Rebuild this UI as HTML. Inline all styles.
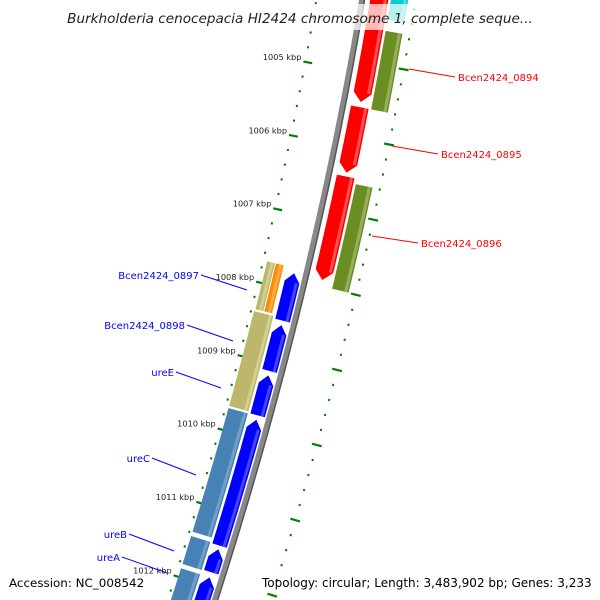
<!DOCTYPE html>
<html><head><meta charset="utf-8"><style>
html,body{margin:0;background:#fff;width:600px;height:600px;overflow:hidden;}
svg{display:block;font-family:"DejaVu Sans","Liberation Sans",sans-serif;}
</style></head><body>
<svg id="map" width="600" height="600" viewBox="0 0 600 600" xmlns="http://www.w3.org/2000/svg">
<g id="ticks"></g>
<g id="backbone"></g>
<g id="genes"></g>
<g id="labels"></g>
<rect x="40" y="4" width="520" height="26" fill="#fff" opacity="0.72"/>
<text x="300" y="23" text-anchor="middle" font-size="13.6" font-style="italic" fill="#222">Burkholderia cenocepacia HI2424 chromosome 1, complete seque...</text>
<text x="9" y="587" font-size="11.9" fill="#000">Accession: NC_008542</text>
<text x="262" y="587" font-size="12" fill="#000">Topology: circular; Length: 3,483,902 bp; Genes: 3,233</text>
</svg>
<script>
// data (kbp)
const geneNames = ["Bcen2424_0894","Bcen2424_0895","Bcen2424_0896","Bcen2424_0897","Bcen2424_0898","ureE","ureC","ureB","ureA"];
const redStarts = [1004.0, 1005.55, 1006.48];
const redEnds   = [1005.51, 1006.46, 1007.90];
const greenStarts = [1004.50, 1006.55];
const greenEnds   = [1005.58, 1007.98];
const cyanStarts = [1003.9];
const cyanEnds   = [1004.38];
const tanStarts = [1007.80, 1008.48];
const tanEnds   = [1008.48, 1009.80];
const orangeStarts = [1007.80];
const orangeEnds   = [1008.48];
const steelStarts = [1009.80, 1011.54, 1011.98];
const steelEnds   = [1011.51, 1011.95, 1012.5];
const blueStarts = [1007.87, 1008.57, 1009.25, 1009.85, 1011.60, 1011.98];
const blueEnds   = [1008.54, 1009.22, 1009.82, 1011.58, 1011.94, 1012.5];
const majorTicks = [1005, 1006, 1007, 1008, 1009, 1010, 1011, 1012];
const tickLabels = ["1005 kbp","1006 kbp","1007 kbp","1008 kbp","1009 kbp","1010 kbp","1011 kbp","1012 kbp"];

const NS = "http://www.w3.org/2000/svg";
function Y(k){ return 62 + (k - 1005) * 74.2; }
function bx(y){ return 362 - 0.1683*y - 0.0001278*y*y; }
function slope(y){ return -0.1683 - 2*0.0001278*y; }
function pt(k, off){
  const y = Y(k), s = slope(y), n = Math.sqrt(1+s*s);
  return [bx(y) + off/n, y - off*s/n];
}
function mk(tag, attrs, parent){
  const e = document.createElementNS(NS, tag);
  for (const a in attrs) e.setAttribute(a, attrs[a]);
  parent.appendChild(e); return e;
}
function P(p){ return p[0].toFixed(1)+","+p[1].toFixed(1); }

// backbone
const bb = document.getElementById('backbone');
let pts = [];
for (let k = 1003.9; k <= 1012.6; k += 0.1) pts.push(P(pt(k, 0)));
let l1 = mk('polyline', {points: pts.join(' '), fill:'none', stroke:'#888', 'stroke-width':6}, bb);


pts = [];
for (let k = 1003.9; k <= 1012.6; k += 0.1) pts.push(P(pt(k, 2.5)));
let l2 = mk('polyline', {points: pts.join(' '), fill:'none', stroke:'#555', 'stroke-width':1.5}, bb);



// ticks (left ring shifted down to match reference)
const tg = document.getElementById('ticks');
const TS = 0.11;
for (let k = 1003.8; k <= 1012.6; k += 0.2) {
  const isMajor = majorTicks.some(m => Math.abs(m - k) < 0.01);
  const a = pt(k + TS, isMajor ? -47 : -46), b = pt(k + TS, isMajor ? -38 : -44);
  let t = mk('line', {x1:a[0], y1:a[1], x2:b[0], y2:b[1], stroke:'#008000', 'stroke-width':2.2}, tg);
  
  
  const kr = k + 0.27 - 0.1;
  const isMajorR = Math.round((k - 1003.8) / 0.2) % 5 === 0;
  const c = pt(kr, isMajorR ? 48 : 52), d = pt(kr, isMajorR ? 58 : 54);
  let t2 = mk('line', {x1:c[0], y1:c[1], x2:d[0], y2:d[1], stroke:'#008000', 'stroke-width':2.2}, tg);
  
  
}
majorTicks.forEach((m, i) => {
  const a = pt(m + TS, -50);
  let tx = mk('text', {x:a[0]+1, y:a[1]-1, 'text-anchor':'end', 'font-size':8.2, fill:'#222'}, tg);
  tx.textContent = tickLabels[i];
  
  
});

// genes
const gg = document.getElementById('genes');
function feature(s, e, off, w, color, light, arrow, name){
  const ks = [];
  const st = s + (arrow === 'up' ? 0.12 : 0) + 0.015, en = e - (arrow === 'down' ? 0.12 : 0) - 0.015;
  for (let k = st; k < en; k += 0.1) ks.push(k);
  ks.push(en);
  const outer = ks.map(k => pt(k, off + w/2));
  const inner = ks.map(k => pt(k, off - w/2)).reverse();
  let poly = [];
  if (arrow === 'up') poly.push(pt(s + 0.015, off));
  poly = poly.concat(outer);
  if (arrow === 'down') poly.push(pt(e - 0.015, off));
  poly = poly.concat(inner);
  let p = mk('polygon', {points: poly.map(P).join(' '), fill: color}, gg);
  
  
  const hl = ks.map(k => pt(k, off + w/2 - 3)).map(P).join(' ');
  let h = mk('polyline', {points: hl, fill:'none', stroke: light, 'stroke-width':3, opacity:0.8}, gg);
  
  
}
redStarts.forEach((s,i) => feature(s, redEnds[i], 17, 18, '#ff0000', '#ff6666', 'down', 'gene-red-' + i));
greenStarts.forEach((s,i) => feature(s, greenEnds[i], 37, 17, '#6b8e23', '#a0b870', 'none', 'gene-green-' + i));
cyanStarts.forEach((s,i) => feature(s, cyanEnds[i], 37, 17, '#00cccc', '#66e0e0', 'none', 'gene-cyan-' + i));
tanStarts.forEach((s,i) => feature(s, tanEnds[i], i === 0 ? -37 : -32, i === 0 ? 8 : 20, '#bdb76b', '#d8d49c', 'none', 'gene-tan-' + i));
orangeStarts.forEach((s,i) => feature(s, orangeEnds[i], -28, 8, '#ff8c00', '#ffb060', 'none', 'gene-orange-' + i));
steelStarts.forEach((s,i) => feature(s, steelEnds[i], -32, 20, '#4682b4', '#7aa8d0', 'none', 'gene-steel-' + i));
blueStarts.forEach((s,i) => feature(s, blueEnds[i], -12, 15, '#0000ff', '#5555ff', 'up', 'gene-blue-' + i));

// labels
const lg = document.getElementById('labels');
const labelX = [458, 441, 421, 199, 185, 174, 150, 127, 120];
const labelY = [78, 155, 244, 276, 326, 373, 459, 535, 558];
const lineEnd = [[409,69],[392,146],[372,236],[247,290],[233,341],[221,388],[196,475],[174,551],[167,573]];
geneNames.forEach((n, i) => {
  const right = i < 3;
  const col = right ? '#ff0000' : '#0000ff';
  const x1 = right ? labelX[i] - 3 : labelX[i] + 2;
  let ln = mk('line', {x1:x1, y1:labelY[i]-1, x2:lineEnd[i][0], y2:lineEnd[i][1], stroke:col, 'stroke-width':1}, lg);
  
  
  let t = mk('text', {x: labelX[i], y: labelY[i] + 3, 'text-anchor': right ? 'start' : 'end', 'font-size':10, fill: col}, lg);
  t.textContent = n;
  
  
});
</script>
</body></html>
